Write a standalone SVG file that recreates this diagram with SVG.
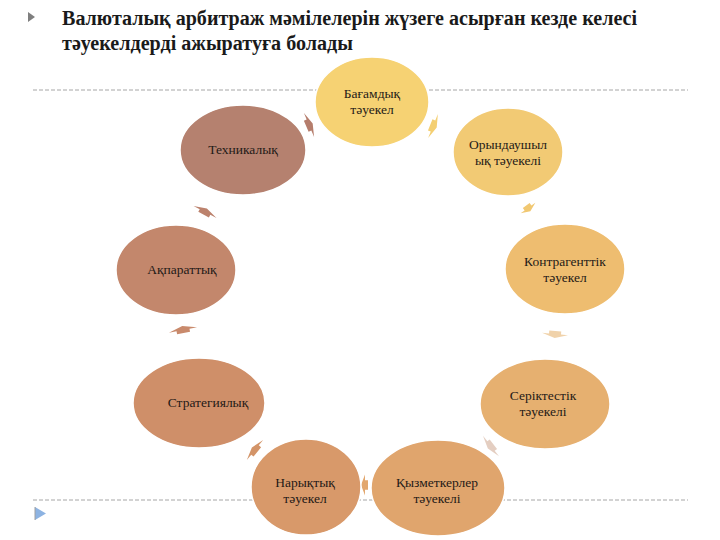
<svg xmlns="http://www.w3.org/2000/svg" width="720" height="540" viewBox="0 0 720 540">
<defs>
<style>
.title{font-family:"Liberation Serif","DejaVu Serif",serif;font-weight:bold;font-size:20px;fill:#1a1a1a}
.lbl{font-family:"Liberation Serif","DejaVu Serif",serif;font-size:13.5px;fill:#1f1a17;text-anchor:middle}
.rule{stroke:#a6a6a6;stroke-width:1;stroke-dasharray:4 2;fill:none}
.node ellipse{stroke:#ffffff;stroke-width:1.5}
</style>
<path id="arr" d="M-3,-6 L0,-6 L0,-13 L4,0 L0,13 L0,6 L-3,6 Z"/>
</defs>
<rect width="720" height="540" fill="#ffffff"/>
<polygon points="28,12 35,17 28,22" fill="#7f7f7f"/>
<text class="title" x="62" y="25" textLength="575" lengthAdjust="spacingAndGlyphs">Валюталық арбитраж мәмілелерін жүзеге асырған кезде келесі</text>
<text class="title" x="62" y="50" textLength="291" lengthAdjust="spacingAndGlyphs">тәуекелдерді ажыратуға болады</text>
<line class="rule" x1="33" y1="90" x2="688" y2="90"/>
<line class="rule" x1="33" y1="500" x2="688" y2="500"/>
<polygon points="35,507 46,513.5 35,520" fill="#8db3e2"/>
<line x1="35" y1="507" x2="35" y2="520" stroke="#a0a0a0" stroke-width="1"/>
<g id="connectors">
<use href="#arr" transform="translate(309,125) rotate(-23)" fill="#b57d6c"/>
<use href="#arr" transform="translate(433,126) rotate(22)" fill="#f4cf72"/>
<use href="#arr" transform="translate(528,208) rotate(54) scale(1,0.7)" fill="#f1c872"/>
<use href="#arr" transform="translate(555,334) rotate(95)" fill="#e9bf86" opacity="0.7"/>
<use href="#arr" transform="translate(491,446) rotate(142)" fill="#d8b9a6" opacity="0.7"/>
<use href="#arr" transform="translate(365,485) rotate(180) scale(1,0.8)" fill="#e2a76e"/>
<use href="#arr" transform="translate(255,450) rotate(-141)" fill="#d39468"/>
<use href="#arr" transform="translate(183,330) rotate(-101) scale(1,1.1)" fill="#c98a6c"/>
<use href="#arr" transform="translate(205,212) rotate(-62)" fill="#bc826d"/>
</g>
<g id="n1" class="node"><ellipse cx="372" cy="102" rx="57" ry="45" fill="#f6d273"/><text class="lbl" x="372" y="98">Бағамдық</text><text class="lbl" x="372" y="114">тәуекел</text></g>
<g id="n2" class="node"><ellipse cx="508" cy="152" rx="55" ry="44" fill="#f2ca74"/><text class="lbl" x="508" y="149">Орындаушыл</text><text class="lbl" x="508" y="165">ық тәуекелі</text></g>
<g id="n3" class="node"><ellipse cx="565" cy="269" rx="60" ry="45" fill="#eebd70"/><text class="lbl" x="565" y="266">Контрагенттік</text><text class="lbl" x="565" y="282">тәуекел</text></g>
<g id="n4" class="node"><ellipse cx="545" cy="404" rx="65" ry="45" fill="#e6b070"/><text class="lbl" x="543" y="400">Серіктестік</text><text class="lbl" x="543" y="416">тәуекелі</text></g>
<g id="n5" class="node"><ellipse cx="438" cy="488" rx="67" ry="48" fill="#e0a56d"/><text class="lbl" x="437" y="487">Қызметкерлер</text><text class="lbl" x="437" y="503">тәуекелі</text></g>
<g id="n6" class="node"><ellipse cx="306" cy="487" rx="55" ry="48" fill="#d8996a"/><text class="lbl" x="305" y="487">Нарықтық</text><text class="lbl" x="305" y="503">тәуекел</text></g>
<g id="n7" class="node"><ellipse cx="199" cy="403" rx="66" ry="45" fill="#cf8f69"/><text class="lbl" x="208" y="407">Стратегиялық</text></g>
<g id="n8" class="node"><ellipse cx="176" cy="270" rx="60" ry="45" fill="#c3876c"/><text class="lbl" x="182" y="274">Ақпараттық</text></g>
<g id="n9" class="node"><ellipse cx="243" cy="150" rx="63" ry="45" fill="#b5816f"/><text class="lbl" x="243" y="154">Техникалық</text></g>
</svg>
